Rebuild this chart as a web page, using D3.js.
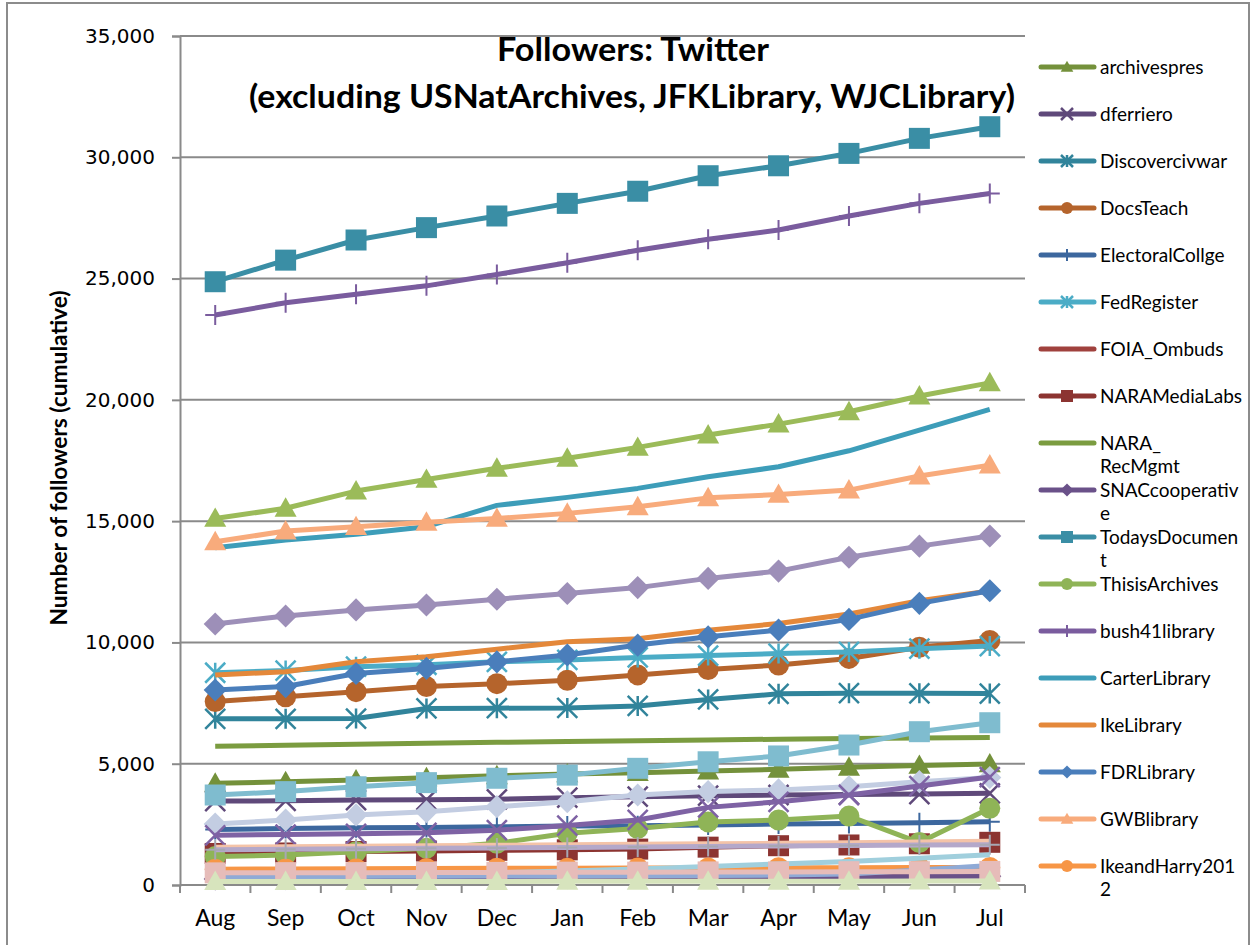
<!DOCTYPE html>
<html>
<head>
<meta charset="utf-8">
<script src="https://cdn.jsdelivr.net/npm/d3@7"></script>
<style>
  body { margin: 0; background: #fff; }
  svg { display: block; }
</style>
</head>
<body>
<div id="chart"></div>
<script>
let months = ['Aug', 'Sep', 'Oct', 'Nov', 'Dec', 'Jan', 'Feb', 'Mar', 'Apr', 'May', 'Jun', 'Jul']

let seriesNames = [
	'archivespres', 'dferriero', 'Discovercivwar', 'DocsTeach', 'ElectoralCollge', 'FedRegister',
	'FOIA_Ombuds', 'NARAMediaLabs', 'NARA_RecMgmt', 'SNACcooperative', 'TodaysDocument', 'ThisisArchives',
	'bush41library', 'CarterLibrary', 'IkeLibrary', 'FDRLibrary', 'GWBlibrary', 'IkeandHarry2012',
	// the legend in the source is cut off, these series have no visible name
	'series19', 'series20', 'series21', 'series22', 'series23', 'series24',
	'series25', 'series26', 'series27', 'series28', 'series29'
]

let archivespres = [4190, 4260, 4330, 4420, 4500, 4580, 4630, 4700, 4770, 4850, 4930, 4990]
let dferriero = [3460, 3470, 3500, 3510, 3530, 3600, 3640, 3680, 3710, 3730, 3750, 3780]
let discovercivwar = [6850, 6850, 6860, 7280, 7290, 7300, 7380, 7650, 7880, 7910, 7900, 7890]
let docsTeach = [7560, 7760, 7970, 8180, 8300, 8440, 8660, 8880, 9070, 9340, 9800, 10080]
let electoralCollge = [2290, 2330, 2360, 2370, 2400, 2430, 2440, 2470, 2510, 2540, 2570, 2610]
let fedRegister = [8750, 8840, 9000, 9080, 9200, 9280, 9380, 9460, 9540, 9610, 9740, 9850]
let foiaOmbuds = [300, 310, 320, 330, 340, 350, 360, 370, 380, 390, 400, 420]
let naraMediaLabs = [1300, 1320, 1380, 1400, 1430, 1450, 1480, 1560, 1620, 1650, 1700, 1760]
let naraRecMgmt = [5720, 5760, 5800, 5840, 5880, 5920, 5950, 5980, 6010, 6040, 6060, 6080]
let snacCooperative = [250, 260, 270, 280, 290, 300, 310, 320, 330, 340, 350, 360]
let todaysDocument = [24870, 25760, 26590, 27100, 27580, 28100, 28600, 29240, 29650, 30160, 30780, 31260]
let thisisArchives = [1170, 1240, 1370, 1510, 1720, 2130, 2330, 2600, 2680, 2840, 1750, 3160]
let bush41library = [23500, 24000, 24350, 24700, 25170, 25650, 26170, 26620, 27000, 27580, 28100, 28510]
let carterLibrary = [13900, 14220, 14460, 14770, 15650, 15980, 16350, 16830, 17240, 17900, 18750, 19610]
let ikeLibrary = [8660, 8790, 9200, 9410, 9720, 10030, 10150, 10500, 10780, 11170, 11720, 12120]
let fdrLibrary = [8040, 8180, 8720, 8930, 9200, 9480, 9890, 10230, 10510, 10950, 11610, 12130]
let gwbLibrary = [14150, 14590, 14770, 14950, 15110, 15320, 15590, 15960, 16100, 16280, 16860, 17310]
let ikeandHarry2012 = [650, 660, 670, 680, 690, 690, 700, 700, 710, 710, 720, 720]
let series19 = [15110, 15530, 16240, 16720, 17180, 17590, 18040, 18550, 19000, 19510, 20160, 20700]
let series20 = [10760, 11090, 11340, 11540, 11780, 12020, 12260, 12640, 12940, 13510, 13970, 14390]
let series21 = [3710, 3850, 4050, 4220, 4400, 4530, 4810, 5080, 5320, 5770, 6320, 6690]
let series22 = [2510, 2680, 2890, 3020, 3230, 3430, 3710, 3850, 3920, 4050, 4260, 4430]
let series23 = [2050, 2080, 2110, 2150, 2260, 2450, 2680, 3200, 3430, 3710, 4080, 4450]
let series24 = [1560, 1580, 1600, 1620, 1640, 1660, 1680, 1700, 1720, 1740, 1770, 1800]
let series25 = [1450, 1470, 1490, 1510, 1530, 1550, 1570, 1590, 1610, 1630, 1650, 1660]
let series26 = [300, 330, 370, 420, 500, 580, 660, 760, 870, 970, 1100, 1250]
let series27 = [350, 350, 360, 360, 370, 370, 380, 390, 410, 450, 620, 800]
let series28 = [500, 510, 510, 520, 520, 530, 530, 540, 540, 550, 550, 560]
let series29 = [140, 140, 140, 145, 145, 150, 150, 150, 155, 155, 160, 160]

let seriesValues = [
	archivespres, dferriero, discovercivwar, docsTeach, electoralCollge, fedRegister,
	foiaOmbuds, naraMediaLabs, naraRecMgmt, snacCooperative, todaysDocument, thisisArchives,
	bush41library, carterLibrary, ikeLibrary, fdrLibrary, gwbLibrary, ikeandHarry2012,
	series19, series20, series21, series22, series23, series24,
	series25, series26, series27, series28, series29
]

let yTicks = [0, 5000, 10000, 15000, 20000, 25000, 30000, 35000]

// styles, one per series
let seriesColors = [
	'#74913b', '#5f497a', '#31849b', '#b5642c', '#3c679e', '#4bacc6',
	'#a0413d', '#8c3431', '#7b9c40', '#6a5189', '#3a8ea5', '#8fb457',
	'#7a5c9e', '#3d9db9', '#e4883a', '#4a7ebb', '#f8ab7c', '#f79646',
	'#9bbb59', '#9d8fb8', '#7fbccf', '#c3cde2', '#7e62a4', '#f4c3a8',
	'#b4a8ca', '#a0cfdd', '#8faad6', '#e6bcb9', '#d7e4bd'
]
let seriesMarkers = [
	'triangle', 'x', 'star', 'circle', 'plus', 'star',
	'none', 'square', 'none', 'diamond', 'square', 'circle',
	'plus', 'none', 'none', 'diamond', 'triangle', 'circle',
	'triangle', 'diamond', 'square', 'diamond', 'x', 'none',
	'plus', 'none', 'none', 'square', 'triangle'
]
let legendLabels = [
	['archivespres'], ['dferriero'], ['Discovercivwar'], ['DocsTeach'], ['ElectoralCollge'], ['FedRegister'],
	['FOIA_Ombuds'], ['NARAMediaLabs'], ['NARA_', 'RecMgmt'], ['SNACcooperativ', 'e'], ['TodaysDocumen', 't'],
	['ThisisArchives'], ['bush41library'], ['CarterLibrary'], ['IkeLibrary'], ['FDRLibrary'], ['GWBlibrary'],
	['IkeandHarry201', '2']
]

let width = 1252
let height = 945
let plotLeft = 180
let plotRight = 1025
let plotTop = 36
let plotBottom = 885
let gridColor = '#8a8a8a'
let labelFont = 'Lato, "Open Sans", sans-serif'

let svg = d3
	.select('#chart')
	.append('svg')
	.attr('width', width)
	.attr('height', height)

// outer chart border
svg
	.append('rect')
	.attr('x', 7)
	.attr('y', 3)
	.attr('width', width - 10)
	.attr('height', height + 20)
	.attr('fill', 'none')
	.attr('stroke', '#8c8c8c')
	.attr('stroke-width', 2)

let x = d3.scalePoint().domain(months).range([plotLeft, plotRight]).padding(0.5)
let y = d3.scaleLinear().domain([0, 35000]).range([plotBottom, plotTop])

// gridlines + y axis
let yAxis = svg
	.append('g')
	.attr('transform', `translate(${plotLeft},0)`)
	.call(
		d3.axisLeft(y)
			.tickValues(yTicks)
			.tickSize(8)
			.tickPadding(17)
			.tickFormat(d3.format(','))
	)
yAxis.select('.domain').attr('stroke', gridColor).attr('stroke-width', 2)
yAxis.selectAll('.tick line').attr('stroke', gridColor).attr('stroke-width', 2)
yAxis
	.selectAll('.tick text')
	.attr('fill', '#000')
	.attr('font-family', '"DejaVu Sans", Verdana, sans-serif')
	.attr('font-size', 20)

svg
	.append('g')
	.selectAll('line')
	.data(yTicks.filter(d => d > 0))
	.join('line')
	.attr('x1', plotLeft)
	.attr('x2', plotRight)
	.attr('y1', d => y(d))
	.attr('y2', d => y(d))
	.attr('stroke', gridColor)
	.attr('stroke-width', 2)

// x axis: ticks between categories
let step = x.step()
let xBounds = d3.range(months.length + 1).map(i => plotLeft + i * step)
svg
	.append('line')
	.attr('x1', plotLeft)
	.attr('x2', plotRight)
	.attr('y1', y(0))
	.attr('y2', y(0))
	.attr('stroke', gridColor)
	.attr('stroke-width', 2)
svg
	.append('g')
	.selectAll('line')
	.data(xBounds)
	.join('line')
	.attr('x1', d => d)
	.attr('x2', d => d)
	.attr('y1', y(0))
	.attr('y2', y(0) + 8)
	.attr('stroke', gridColor)
	.attr('stroke-width', 2)
svg
	.append('g')
	.selectAll('text')
	.data(months)
	.join('text')
	.attr('x', d => x(d))
	.attr('y', 926)
	.attr('text-anchor', 'middle')
	.attr('font-family', labelFont)
	.attr('font-size', 23)
	.text(d => d)

// marker drawing
let markerPath = (type, s) => {
	let h = s / 2
	if (type === 'square') return d3.symbol(d3.symbolSquare, s * s)()
	if (type === 'circle') return d3.symbol(d3.symbolCircle, Math.PI * h * h)()
	if (type === 'triangle') {
		return `M0,${-h * 1.05}L${h * 1.05},${h * 0.8}L${-h * 1.05},${h * 0.8}Z`
	}
	if (type === 'diamond') return `M0,${-h * 1.1}L${h * 1.1},0L0,${h * 1.1}L${-h * 1.1},0Z`
	if (type === 'x') return `M${-h},${-h}L${h},${h}M${-h},${h}L${h},${-h}`
	if (type === 'star') return `M${-h},${-h}L${h},${h}M${-h},${h}L${h},${-h}M0,${-h}L0,${h}`
	if (type === 'plus') return `M0,${-h}L0,${h}M${-h},0L${h},0`
	return ''
}
let isStroked = type => type === 'x' || type === 'star' || type === 'plus'

let drawMarker = (g, type, color, s) => {
	let p = g.append('path').attr('d', markerPath(type, s))
	if (isStroked(type)) {
		p.attr('fill', 'none').attr('stroke', color).attr('stroke-width', type === 'plus' ? 2 : 2.5)
	} else {
		p.attr('fill', color)
	}
	return p
}

let line = d3
	.line()
	.x((d, i) => x(months[i]))
	.y(d => y(d))

let plot = svg.append('g')
seriesValues.forEach((vals, si) => {
	let color = seriesColors[si]
	let type = seriesMarkers[si]
	let g = plot.append('g').attr('class', 'series')
	g.append('path')
		.attr('d', line(vals))
		.attr('fill', 'none')
		.attr('stroke', color)
		.attr('stroke-width', 5)
		.attr('stroke-linejoin', 'round')
	if (type !== 'none') {
		let s = isStroked(type) ? 20 : 21
		vals.forEach((v, i) => {
			let m = g.append('g').attr('transform', `translate(${x(months[i])},${y(v)})`)
			drawMarker(m, type, type === 'plus' && si === 24 ? '#a7a7b3' : color, s)
		})
	}
})

// title
svg
	.append('text')
	.attr('x', 633)
	.attr('y', 61)
	.attr('text-anchor', 'middle')
	.attr('font-family', labelFont)
	.attr('font-weight', 'bold')
	.attr('font-size', 33)
	.attr('textLength', 272)
	.attr('lengthAdjust', 'spacingAndGlyphs')
	.text('Followers: Twitter')
svg
	.append('text')
	.attr('x', 632)
	.attr('y', 108)
	.attr('text-anchor', 'middle')
	.attr('font-family', labelFont)
	.attr('font-weight', 'bold')
	.attr('font-size', 33)
	.attr('textLength', 766)
	.attr('lengthAdjust', 'spacingAndGlyphs')
	.text('(excluding USNatArchives, JFKLibrary, WJCLibrary)')

// y axis title
svg
	.append('text')
	.attr('transform', 'translate(67,458) rotate(-90)')
	.attr('text-anchor', 'middle')
	.attr('font-family', labelFont)
	.attr('font-weight', 'bold')
	.attr('font-size', 22)
	.attr('textLength', 335)
	.attr('lengthAdjust', 'spacingAndGlyphs')
	.text('Number of followers  (cumulative)')

// legend (truncated in the original, only the first 18 entries fit)
let legend = svg.append('g')
legendLabels.forEach((lines, i) => {
	let ly = 67 + i * 47
	let color = seriesColors[i]
	let type = seriesMarkers[i]
	let g = legend.append('g').attr('transform', `translate(0,${ly})`)
	g.append('line')
		.attr('x1', 1041)
		.attr('x2', 1094)
		.attr('y1', 0)
		.attr('y2', 0)
		.attr('stroke', color)
		.attr('stroke-width', 5)
		.attr('stroke-linecap', 'round')
	if (type !== 'none') {
		let m = g.append('g').attr('transform', 'translate(1067,0)')
		drawMarker(m, type, color, 12)
	}
	lines.forEach((t, k) => {
		g.append('text')
			.attr('x', 1100)
			.attr('y', k * 23)
			.attr('dy', '0.35em')
			.attr('font-family', labelFont)
			.attr('font-size', 19)
			.text(t)
	})
})
</script>
</body>
</html>
